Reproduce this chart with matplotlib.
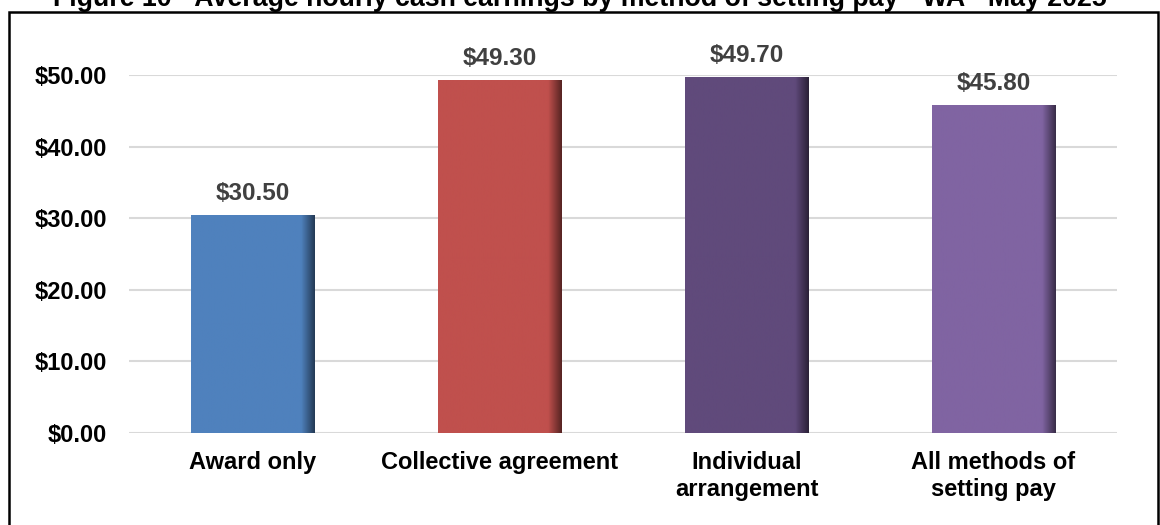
import numpy as np
import matplotlib
matplotlib.use("Agg")
import matplotlib.pyplot as plt
from matplotlib.colors import LinearSegmentedColormap, to_rgb
from matplotlib.patches import Rectangle

plt.rcParams["font.family"] = ["Liberation Sans", "DejaVu Sans"]

categories = ["Award only", "Collective agreement", "Individual\narrangement",
              "All methods of\nsetting pay"]
values = [30.5, 49.3, 49.7, 45.8]
colors = ["#4F81BD", "#C0504D", "#604A7B", "#8064A2"]
yticks = [0, 10, 20, 30, 40, 50]
title = "Figure 10 - Average hourly cash earnings by method of setting pay - WA - May 2025"

fig = plt.figure(figsize=(11.6, 5.25), dpi=100)
ax = fig.add_axes([129 / 1160, 1 - 433 / 525, 988 / 1160, 358 / 525])

x = np.arange(len(categories))
width = 0.5
bars = ax.bar(x, values, width=width, color=colors, zorder=2)

# darker shading toward the right edge of each bar
for bar, c in zip(bars, colors):
    base = np.array(to_rgb(c))
    dark = base * 0.45
    cmap = LinearSegmentedColormap.from_list("s", [base, base, dark])
    grad = np.linspace(0, 1, 256)
    grad = np.clip((grad - 0.78) / 0.22, 0, 1)[None, :]
    x0 = bar.get_x()
    im = ax.imshow(grad, cmap=cmap, aspect="auto", zorder=3,
                   extent=[x0, x0 + bar.get_width(), 0, bar.get_height()],
                   vmin=0, vmax=1)
    im.set_clip_path(bar)

for xi, v in zip(x, values):
    ax.text(xi, v + 1.4, f"${v:.2f}", ha="center", va="bottom",
            fontsize=17.5, fontweight="bold", color="#404040", clip_on=False)

ax.set_xlim(-0.5, 3.5)
ax.set_ylim(0, 50)
ax.set_yticks(yticks)
ax.set_yticklabels([f"${t:.2f}" for t in yticks], fontsize=17, fontweight="bold")
ax.set_xticks(x)
ax.set_xticklabels(categories, fontsize=17, fontweight="bold", linespacing=1.22)
ax.tick_params(axis="y", length=0, pad=16)
ax.tick_params(axis="x", length=0, pad=13)
ax.grid(axis="y", color="#D9D9D9", linewidth=1.5, zorder=0)
ax.set_axisbelow(True)
for s in ax.spines.values():
    s.set_visible(False)

fig.patches.append(Rectangle((9 / 1160, -0.05), 1149 / 1160, 1.05 - 12 / 525,
                             transform=fig.transFigure, fill=False,
                             edgecolor="black", linewidth=1.8))
fig.text(0.5, 1 - 6 / 525, title, ha="center", va="baseline",
         fontsize=19.3, fontweight="bold")

fig.savefig("out.png", dpi=100)
